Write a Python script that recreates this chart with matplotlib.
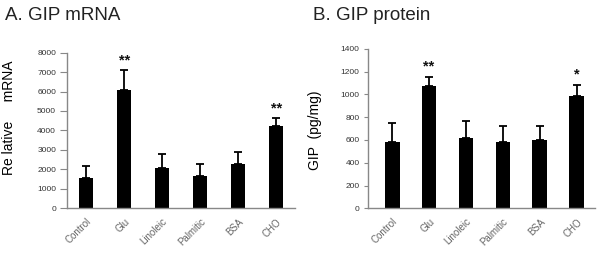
import matplotlib
matplotlib.use("Agg")
import matplotlib.pyplot as plt
import numpy as np

plt.rcParams["font.family"] = ["Liberation Sans", "DejaVu Sans"]

groups = ["Control", "Glu", "Linoleic", "Palmitic", "BSA", "CHO"]

mrna_mean = [1580, 6100, 2090, 1680, 2300, 4250]
mrna_err = [610, 1000, 700, 600, 580, 390]
mrna_stars = ["", "**", "", "", "", "**"]
mrna_ticks = [0, 1000, 2000, 3000, 4000, 5000, 6000, 7000, 8000]

prot_mean = [585, 1075, 620, 585, 600, 985]
prot_err = [165, 82, 150, 135, 120, 102]
prot_stars = ["", "**", "", "", "", "*"]
prot_ticks = [0, 200, 400, 600, 800, 1000, 1200, 1400]

fig = plt.figure(figsize=(6.0, 2.63), dpi=100)
axA = fig.add_axes([0.112, 0.208, 0.380, 0.592])
axB = fig.add_axes([0.613, 0.208, 0.379, 0.606])


def panel(ax, means, errs, stars, ticks, xlim, width, ylabel, star_gap,
          ticklen, label_xy):
    x = np.arange(len(groups))
    ax.bar(x, means, width=width, color="black", zorder=2)
    ax.errorbar(x, means, yerr=[np.zeros(len(errs)), errs], fmt="none",
                ecolor="black", elinewidth=1.3, capsize=3, capthick=1.3, zorder=1)
    for xi, m, e, s in zip(x, means, errs, stars):
        if s:
            ax.text(xi, m + e + star_gap, s, ha="center", va="bottom",
                    fontsize=10.5, fontweight="bold", color="#111")
    ax.set_xlim(*xlim)
    ax.set_ylim(ticks[0], ticks[-1])
    ax.set_yticks(ticks)
    ax.set_yticklabels([str(t) for t in ticks], fontsize=6, color="#333")
    ax.set_xticks(x)
    ax.set_xticklabels(groups, rotation=45, ha="right", rotation_mode="anchor",
                       fontsize=7, color="#666")
    ax.tick_params(axis="x", length=0, pad=6)
    ax.tick_params(axis="y", length=ticklen, width=0.8, color="#888", pad=3)
    for side in ("top", "right"):
        ax.spines[side].set_visible(False)
    for side in ("left", "bottom"):
        ax.spines[side].set_color("#888")
        ax.spines[side].set_linewidth(1.0)
    ax.set_ylabel(ylabel, fontsize=10, color="#000")
    ax.yaxis.set_label_coords(*label_xy)


panel(axA, mrna_mean, mrna_err, mrna_stars, mrna_ticks, (-0.5, 5.5), 0.38,
      "Re lative     mRNA", 150, 5, (-0.225, 0.58))
panel(axB, prot_mean, prot_err, prot_stars, prot_ticks, (-0.66, 5.5), 0.4,
      "GIP  (pg/mg)", 25, 3, (-0.20, 0.49))

fig.text(0.008, 0.975, "A. GIP mRNA", fontsize=13.5, color="#222", va="top", ha="left")
fig.text(0.521, 0.975, "B. GIP protein", fontsize=13.5, color="#222", va="top", ha="left")

fig.savefig("out.png", dpi=100)
